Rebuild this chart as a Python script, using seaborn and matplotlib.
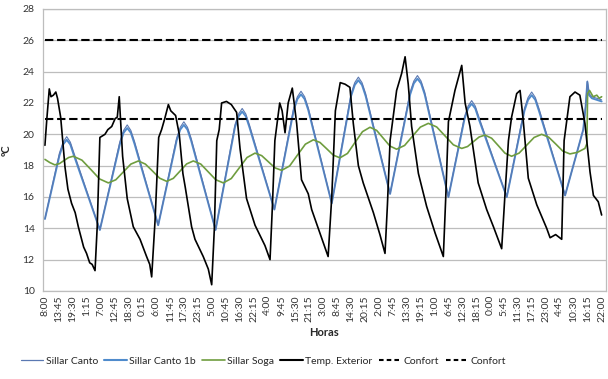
import matplotlib
matplotlib.use('Agg')
import matplotlib.pyplot as plt
import seaborn as sns
from matplotlib.lines import Line2D

# hours elapsed since 8:00 of the first day
temp_ext_t = [0, 0.8, 1.8, 2.5, 3.5, 4.5, 5.2, 6.5, 8.3, 9.5, 11, 12.5, 13.8, 15, 16, 17.2, 18.5, 19.5, 20.7,
              21.6, 22.7, 24.8, 26, 27.6, 29, 29.9, 30.7, 31.2, 32.1, 34, 36.5, 39.3, 42, 43.3, 44.1,
              45.5, 47, 48.2, 49.5, 51, 52, 54, 55.5, 57, 58, 60.6, 62, 65.4, 67.5, 68.9,
              70, 71, 72, 73, 75, 77, 79.2, 80.6, 83.3, 86.8, 90.9, 93,
              94, 95, 97, 98, 99.2, 100.5, 102.2, 104, 106, 108.8, 110.2, 113.6, 117,
              118.5, 120, 122, 124, 126, 127.4, 129.5, 131.5, 135.7, 138.4, 140.5,
              141.5, 142.6, 145.3, 147.4, 148.8, 150.1, 151.5, 154.3, 157.7, 161.2, 164.6,
              165.6, 166.7, 169.4, 172.2, 173.6, 175.6, 179, 182.5, 185.3, 188.7,
              190, 191.5, 192.8, 194.9, 196.3, 197.6, 199.7, 203.2, 207.3, 208.7, 211, 213.5,
              214.5, 216.9, 219, 221, 223.1, 225.2, 226.6, 228.6, 230]
temp_ext = [19.3, 21.0, 22.9, 22.4, 22.5, 22.7, 22.3, 21.1, 17.9, 16.5, 15.6, 15.0, 14.1, 13.4, 12.8, 12.4, 11.8, 11.7, 11.3,
            14.1, 19.8, 20.0, 20.3, 20.5, 21.0, 21.1, 22.4, 21.0, 18.6, 15.9, 14.1, 13.3, 12.2, 11.7, 10.9,
            14.5, 19.8, 20.3, 21.0, 21.9, 21.5, 21.2, 20.0, 17.5, 16.6, 14.1, 13.3, 12.2, 11.4, 10.4,
            14.0, 19.6, 20.3, 22.0, 22.1, 21.9, 21.4, 19.1, 15.9, 14.2, 12.9, 12.0,
            15.5, 19.6, 22.0, 21.5, 20.1, 22.0, 22.95, 20.7, 17.1, 16.2, 15.2, 13.7, 12.2,
            16.0, 21.5, 23.3, 23.2, 23.0, 20.7, 18.0, 16.9, 15.0, 13.6, 12.4,
            15.5, 19.6, 22.8, 23.9, 24.95, 23.2, 20.5, 17.5, 15.4, 13.7, 12.2,
            16.0, 20.8, 22.8, 24.4, 22.0, 20.5, 16.9, 15.2, 14.1, 12.7,
            16.0, 19.6, 21.1, 22.6, 22.8, 20.9, 17.2, 15.5, 14.0, 13.4, 13.6, 13.3,
            19.6, 22.4, 22.7, 22.5, 20.7, 17.6, 16.1, 15.7, 14.85]

soga_t = [0, 2, 4.1, 6.0, 7.9, 9.8, 11.7, 15.3, 19.0, 22.6, 26.2, 29.3, 32.4, 35.5, 38.6,
          41.5, 44.5, 47.4, 50.3, 53.05, 55.8, 58.55, 61.3, 64.4, 67.5, 70.6, 73.7,
          77.0, 80.25, 83.5, 86.8, 89.55, 92.3, 95.05, 97.8, 101.1, 104.35, 107.6, 110.9,
          113.65, 116.4, 119.15, 121.9, 125.0, 128.1, 131.2, 134.3, 137.05, 139.8, 142.55, 145.3,
          148.6, 151.85, 155.1, 158.4, 161.85, 165.3, 168.75, 172.2, 174.6, 177.0, 179.4, 181.8,
          184.55, 187.3, 190.05, 192.8, 195.9, 199.0, 202.1, 205.2, 208.1, 211.05, 213.95, 216.9,
          220, 223.1, 223.9, 224.2, 225, 226.5, 228, 229, 230]
soga = [18.4, 18.2, 18.05, 18.13, 18.33, 18.52, 18.6, 18.35, 17.75, 17.15, 16.9, 17.1, 17.6, 18.1, 18.3,
        18.1, 17.65, 17.2, 17.0, 17.19, 17.65, 18.11, 18.3, 18.1, 17.6, 17.1, 16.9,
        17.18, 17.85, 18.52, 18.8, 18.64, 18.25, 17.86, 17.7, 17.98, 18.68, 19.37, 19.65,
        19.48, 19.08, 18.67, 18.5, 18.78, 19.48, 20.17, 20.45, 20.25, 19.75, 19.25, 19.05,
        19.29, 19.88, 20.46, 20.7, 20.47, 19.9, 19.33, 19.1, 19.22, 19.53, 19.83, 19.95,
        19.75, 19.28, 18.8, 18.6, 18.8, 19.3, 19.8, 20.0, 19.82, 19.38, 18.93, 18.75,
        18.85, 19.1, 19.4, 22.6, 22.8, 22.4, 22.5, 22.3, 22.4]

canto_t = [0, 6, 7.5, 9, 10.5, 12, 22.7, 31, 32.5, 34, 35.5, 37, 46.8,
           54.4, 55.9, 57.4, 58.9, 60.4, 70.5, 78.5, 80, 81.5, 83, 84.5, 94.8,
           102.8, 104.3, 105.8, 107.3, 108.8, 118.5, 126.5, 128, 129.5, 131, 132.5, 142.6,
           150.9, 152.4, 153.9, 155.4, 156.9, 166.7, 173.3, 174.8, 176.3, 177.8, 179.3, 190.8,
           198.1, 199.6, 201.1, 202.6, 204.1, 214.9, 222.4, 223.4, 224.1, 224.8, 226, 228, 230]
canto = [14.6, 18.8, 19.5, 19.85, 19.5, 18.8, 13.9, 19.55, 20.25, 20.6, 20.25, 19.55, 14.2,
         19.75, 20.45, 20.8, 20.45, 19.75, 13.9, 20.6, 21.3, 21.65, 21.3, 20.6, 15.2,
         21.7, 22.4, 22.75, 22.4, 21.7, 15.6, 22.6, 23.3, 23.65, 23.3, 22.6, 16.2,
         22.7, 23.4, 23.75, 23.4, 22.7, 16.0, 21.1, 21.8, 22.15, 21.8, 21.1, 16.0,
         21.65, 22.35, 22.7, 22.35, 21.65, 16.1, 20.3, 21.8, 23.4, 22.6, 22.4, 22.3, 22.2]
canto_1b = [14.6, 18.65, 19.35, 19.65, 19.35, 18.65, 13.9, 19.4, 20.1, 20.4, 20.1, 19.4, 14.2,
            19.6, 20.3, 20.6, 20.3, 19.6, 13.9, 20.45, 21.15, 21.45, 21.15, 20.45, 15.2,
            21.55, 22.25, 22.55, 22.25, 21.55, 15.6, 22.45, 23.15, 23.45, 23.15, 22.45, 16.2,
            22.55, 23.25, 23.55, 23.25, 22.55, 16.0, 20.95, 21.65, 21.95, 21.65, 20.95, 16.0,
            21.5, 22.2, 22.5, 22.2, 21.5, 16.1, 20.3, 21.8, 23.35, 22.5, 22.3, 22.2, 22.1]

confort_t = [0, 230]
confort_max = [26, 26]
confort_min = [21, 21]

tick_labels = ['8:00', '13:45', '19:30', '1:15', '7:00', '12:45', '18:30', '0:15', '6:00', '11:45',
               '17:30', '23:15', '5:00', '10:45', '16:30', '22:15', '4:00', '9:45', '15:30', '21:15',
               '3:00', '8:45', '14:30', '20:15', '2:00', '7:45', '13:30', '19:15', '1:00', '6:45',
               '12:30', '18:15', '0:00', '5:45', '11:30', '17:15', '23:00', '4:45', '10:30', '16:15',
               '22:00']
tick_step = 5.75

sns.set_style('white')
plt.rcParams['font.family'] = ['Lato', 'DejaVu Sans']

fig = plt.figure(figsize=(6.08, 3.79), dpi=100)
ax = fig.add_axes([0.0707, 0.2322, 0.9260, 0.7441])

c_canto = '#5a78b2'
c_1b = '#4f8bcc'
c_soga = '#6f9d3f'

sns.lineplot(x=canto_t, y=canto_1b, ax=ax, color=c_1b, lw=1.4, estimator=None, sort=False)
sns.lineplot(x=canto_t, y=canto, ax=ax, color=c_canto, lw=0.8, estimator=None, sort=False)
sns.lineplot(x=soga_t, y=soga, ax=ax, color=c_soga, lw=1.2, estimator=None, sort=False)
sns.lineplot(x=temp_ext_t, y=temp_ext, ax=ax, color='black', lw=1.2, estimator=None, sort=False)
for vals in (confort_max, confort_min):
    sns.lineplot(x=confort_t, y=vals, ax=ax, color='black', lw=1.5, dashes=False,
                 estimator=None, sort=False).lines[-1].set_dashes((4, 1.8))

ax.set_xlim(-0.8, 231.8)
ax.set_ylim(10, 28)
ax.set_yticks(range(10, 29, 2))
ax.set_xticks([i * tick_step for i in range(len(tick_labels))])
ax.set_xticklabels(tick_labels, rotation=90, fontsize=7.5, color='#333333')
ax.tick_params(axis='y', labelsize=7.5, labelcolor='#333333', length=0, pad=6)
ax.tick_params(axis='x', length=0, pad=3)
ax.yaxis.grid(True, color='#bdbdbd', lw=0.9)
ax.set_axisbelow(True)
for s in ax.spines.values():
    s.set_color('#bdbdbd')
    s.set_linewidth(0.9)

ax.set_xlabel('Horas', fontsize=8, fontweight='bold', labelpad=4)
ax.set_ylabel('ºC', fontsize=8, fontweight='bold', labelpad=8)

handles = [
    Line2D([], [], color=c_canto, lw=0.9),
    Line2D([], [], color=c_1b, lw=1.5),
    Line2D([], [], color=c_soga, lw=1.2),
    Line2D([], [], color='black', lw=1.5),
    Line2D([], [], color='black', lw=1.5, dashes=(2.2, 1.5)),
    Line2D([], [], color='black', lw=1.5, dashes=(2.2, 1.5)),
]
labels = ['Sillar Canto', 'Sillar Canto 1b', 'Sillar Soga', 'Temp. Exterior', 'Confort', 'Confort']
fig.legend(handles, labels, loc='center', bbox_to_anchor=(0.433, 0.047), ncol=6, frameon=False,
           fontsize=7.5, handlelength=2.2, handletextpad=0.2, columnspacing=0.6)

fig.savefig('out.png', dpi=100)
